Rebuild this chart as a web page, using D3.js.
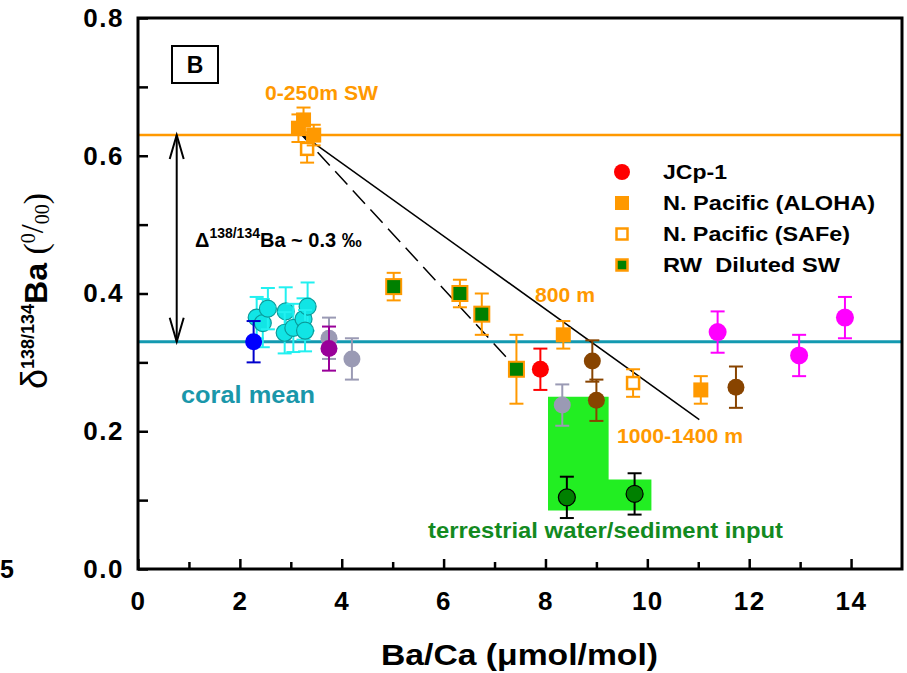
<!DOCTYPE html>
<html>
<head>
<meta charset="utf-8">
<script src="https://cdn.jsdelivr.net/npm/d3@7"></script>
<style>
  body { margin: 0; background: #fff; }
  svg { display: block; font-family: "Liberation Sans", Arial, sans-serif; }
</style>
</head>
<body>
<svg width="907" height="673"></svg>
<script>
// data: [Ba/Ca, d138Ba, error]
const alohaData   = [[3.15, 0.640, 0.020], [3.25, 0.652, 0.018], [3.45, 0.630, 0.015], [8.35, 0.340, 0.020], [11.05, 0.260, 0.020]];
const safeData    = [[3.32, 0.610, 0.020], [9.72, 0.270, 0.020]];
const rwData      = [[5.02, 0.410, 0.020], [6.32, 0.400, 0.020], [6.75, 0.370, 0.030], [7.43, 0.290, 0.050]];
const jcpData     = [[7.90, 0.290, 0.030]];
const cyanCorals  = [[2.33, 0.365, 0.030], [2.45, 0.357, 0.035], [2.55, 0.378, 0.030], [2.90, 0.374, 0.035],
                     [2.88, 0.343, 0.030], [3.05, 0.350, 0.035], [3.25, 0.363, 0.030], [3.33, 0.381, 0.035], [3.28, 0.346, 0.030]];
const blueCorals  = [[2.27, 0.330, 0.030]];
const grayCorals  = [[3.75, 0.335, 0.030], [4.20, 0.305, 0.030], [8.33, 0.238, 0.030]];
const purpleCorals = [[3.75, 0.320, 0.032]];
const brownCorals = [[8.92, 0.302, 0.030], [9.00, 0.245, 0.030], [11.74, 0.264, 0.030]];
const magentaCorals = [[11.38, 0.344, 0.030], [12.98, 0.310, 0.030], [13.88, 0.365, 0.030]];
const greenCorals = [[8.42, 0.104, 0.030], [9.75, 0.109, 0.030]];

const swLevel = 0.63;
const coralMeanLevel = 0.33;
const mixingSolid = [[3.18, 0.633], [11.02, 0.217]];
const mixingDashed = [[3.18, 0.633], [7.40, 0.294]];
const terrestrialBox = [[8.05, 0.25], [9.24, 0.25], [9.24, 0.13], [10.08, 0.13], [10.08, 0.085], [8.05, 0.085]];
const arrowX = 0.76;

const xMajor = [0, 2, 4, 6, 8, 10, 12, 14];
const xMinor = [1, 3, 5, 7, 9, 11, 13];
const yMajor = [0, 0.2, 0.4, 0.6, 0.8];
const yMinor = [0.1, 0.3, 0.5, 0.7];

const legendItems = [
  { label: "JCp-1", shape: "circle", fill: "#ff0000", stroke: "none", len: 64 },
  { label: "N. Pacific (ALOHA)", shape: "square", fill: "#ff9900", stroke: "none", len: 212 },
  { label: "N. Pacific (SAFe)", shape: "open", fill: "#fff", stroke: "#ff9900", len: 187 },
  { label: "RW  Diluted SW", shape: "rw", fill: "#008000", stroke: "#ff9900", len: 177 }
];

const svg = d3.select("svg");
const x = d3.scaleLinear().domain([0, 15]).range([138, 902]);
const y = d3.scaleLinear().domain([0, 0.8]).range([569, 18]);

const orange = "#ff9900";
const teal = "#1399b0";

// terrestrial input zone
svg.append("path")
  .attr("d", d3.line().x(d => x(d[0])).y(d => y(d[1]))(terrestrialBox) + "Z")
  .attr("fill", "#22ee22");

// reference lines
svg.append("line")
  .attr("x1", x(0)).attr("x2", x(15))
  .attr("y1", y(swLevel)).attr("y2", y(swLevel))
  .attr("stroke", orange).attr("stroke-width", 2.5);
svg.append("line")
  .attr("x1", x(0)).attr("x2", x(15))
  .attr("y1", y(coralMeanLevel)).attr("y2", y(coralMeanLevel))
  .attr("stroke", teal).attr("stroke-width", 3);

// mixing lines
const line = d3.line().x(d => x(d[0])).y(d => y(d[1]));
svg.append("path").attr("d", line(mixingSolid))
  .attr("fill", "none").attr("stroke", "#000").attr("stroke-width", 1.5);
svg.append("path").attr("d", line(mixingDashed))
  .attr("fill", "none").attr("stroke", "#000").attr("stroke-width", 1.5)
  .attr("stroke-dasharray", "18,8");

// double arrow
const ax = x(arrowX), aTop = y(swLevel), aBot = y(coralMeanLevel);
svg.append("line").attr("x1", ax).attr("x2", ax).attr("y1", aTop).attr("y2", aBot)
  .attr("stroke", "#000").attr("stroke-width", 2);
svg.append("path")
  .attr("d", `M${ax - 7},${aTop + 24}L${ax},${aTop}L${ax + 7},${aTop + 24}M${ax - 7},${aBot - 24}L${ax},${aBot}L${ax + 7},${aBot - 24}`)
  .attr("fill", "none").attr("stroke", "#000").attr("stroke-width", 2);

// points with error bars
function drawSeries(data, opt) {
  const g = svg.append("g");
  for (const [bx, v, e] of data) {
    const cx = x(bx), cy = y(v);
    const eg = g.append("g").attr("stroke", opt.err).attr("stroke-width", 2);
    eg.append("line").attr("x1", cx).attr("x2", cx).attr("y1", y(v - e)).attr("y2", y(v + e));
    eg.append("line").attr("x1", cx - 7).attr("x2", cx + 7).attr("y1", y(v - e)).attr("y2", y(v - e));
    eg.append("line").attr("x1", cx - 7).attr("x2", cx + 7).attr("y1", y(v + e)).attr("y2", y(v + e));
    if (opt.shape === "circle") {
      g.append("circle").attr("cx", cx).attr("cy", cy).attr("r", opt.size)
        .attr("fill", opt.fill).attr("stroke", opt.stroke || "none").attr("stroke-width", 1.2);
    } else {
      const s = opt.size;
      g.append("rect").attr("x", cx - s / 2).attr("y", cy - s / 2).attr("width", s).attr("height", s)
        .attr("fill", opt.fill).attr("stroke", opt.stroke || "none").attr("stroke-width", opt.sw || 0);
    }
  }
}

drawSeries(grayCorals, { shape: "circle", fill: "#9a9ab4", err: "#9a9ab4", size: 8.5 });
drawSeries(purpleCorals, { shape: "circle", fill: "#990099", err: "#990099", size: 8.5 });
drawSeries(cyanCorals, { shape: "circle", fill: "#11e5e5", stroke: "#0a9a9a", err: "#22f0f0", size: 8.5 });
drawSeries(blueCorals, { shape: "circle", fill: "#0000ff", err: "#0000cc", size: 8.5 });
drawSeries(brownCorals, { shape: "circle", fill: "#884400", err: "#884400", size: 8.5 });
drawSeries(magentaCorals, { shape: "circle", fill: "#ff00ff", err: "#ff00ff", size: 9 });
drawSeries(greenCorals, { shape: "circle", fill: "#008000", stroke: "#000", err: "#000", size: 8.5 });
drawSeries(jcpData, { shape: "circle", fill: "#ff0000", err: "#ff0000", size: 8.5 });
drawSeries(safeData, { shape: "square", fill: "#fff", stroke: orange, sw: 2.5, err: orange, size: 12 });
drawSeries(alohaData, { shape: "square", fill: orange, err: orange, size: 15 });
drawSeries(rwData, { shape: "square", fill: "#008000", stroke: orange, sw: 2, err: orange, size: 15 });

// axes
function styleAxis(g) {
  g.select(".domain").remove();
  g.selectAll(".tick line").attr("stroke", "#000").attr("stroke-width", 2.5);
  g.selectAll(".tick text").attr("fill", "#000")
    .style("font-size", "26px").style("font-weight", "bold").style("letter-spacing", "1.5px");
}
svg.append("g").attr("transform", `translate(0,${y(0)})`)
  .call(d3.axisBottom(x).tickValues(xMajor).tickSize(-10).tickPadding(23).tickFormat(d3.format("d")))
  .call(styleAxis);
svg.append("g").attr("transform", `translate(0,${y(0)})`)
  .call(d3.axisBottom(x).tickValues(xMinor).tickSize(-7).tickFormat(""))
  .call(styleAxis);
svg.append("g").attr("transform", `translate(${x(0)},0)`)
  .call(d3.axisLeft(y).tickValues(yMajor).tickSize(-10).tickPadding(14).tickFormat(d3.format(".1f")))
  .call(styleAxis);
svg.append("g").attr("transform", `translate(${x(0)},0)`)
  .call(d3.axisLeft(y).tickValues(yMinor).tickSize(-10).tickFormat(""))
  .call(styleAxis);

// frame
svg.append("rect")
  .attr("x", x(0)).attr("y", y(0.8))
  .attr("width", x(15) - x(0)).attr("height", y(0) - y(0.8))
  .attr("fill", "none").attr("stroke", "#000").attr("stroke-width", 3);

// panel label
svg.append("rect").attr("x", 172).attr("y", 46).attr("width", 46).attr("height", 37)
  .attr("fill", "#fff").attr("stroke", "#000").attr("stroke-width", 2);
svg.append("text").attr("x", 195).attr("y", 73).attr("text-anchor", "middle")
  .style("font-size", "23px").style("font-weight", "bold").text("B");

// annotations
function note(txt, px, py, size, color, len) {
  const t = svg.append("text").attr("x", px).attr("y", py)
    .style("font-size", size + "px").style("font-weight", "bold").attr("fill", color).text(txt);
  if (len) t.attr("textLength", len).attr("lengthAdjust", "spacingAndGlyphs");
  return t;
}
note("0-250m SW", 265, 100, 20, orange, 113);
note("800 m", 535, 302, 21, orange, 60);
note("1000-1400 m", 617, 443, 21, orange, 126);
note("coral mean", 181, 403, 24, "#1a97aa", 134);
note("terrestrial water/sediment input", 428, 538, 22, "#138a1f", 355);

const delta = svg.append("text").attr("x", 195).attr("y", 247)
  .style("font-weight", "bold").attr("fill", "#000");
delta.append("tspan").style("font-size", "20px").text("Δ");
delta.append("tspan").style("font-size", "14px").attr("dy", -9).text("138/134");
delta.append("tspan").style("font-size", "20px").attr("dy", 9).text("Ba ~ 0.3 ‰");

// legend
const leg = svg.append("g");
legendItems.forEach((d, i) => {
  const cy = 172 + i * 31;
  if (d.shape === "circle") {
    leg.append("circle").attr("cx", 622).attr("cy", cy).attr("r", 8).attr("fill", d.fill);
  } else {
    const s = d.shape === "square" ? 14 : 11;
    leg.append("rect").attr("x", 622 - s / 2).attr("y", cy - s / 2).attr("width", s).attr("height", s)
      .attr("fill", d.fill).attr("stroke", d.stroke).attr("stroke-width", d.shape === "square" ? 0 : 2.5);
  }
  leg.append("text").attr("x", 663).attr("y", cy + 7)
    .style("font-size", "20px").style("font-weight", "bold").style("white-space", "pre")
    .attr("textLength", d.len).attr("lengthAdjust", "spacingAndGlyphs")
    .text(d.label);
});

// axis titles
svg.append("text").attr("x", 381).attr("y", 665)
  .style("font-size", "29px").style("font-weight", "bold")
  .attr("textLength", 277).attr("lengthAdjust", "spacingAndGlyphs")
  .text("Ba/Ca (μmol/mol)");

const yt = svg.append("text").attr("transform", "translate(47,291) rotate(-90)")
  .attr("text-anchor", "middle").attr("fill", "#000");
yt.append("tspan").style("font-size", "36px").text("δ");
yt.append("tspan").style("font-size", "18px").style("font-weight", "bold").attr("dy", -13).text("138/134");
yt.append("tspan").style("font-size", "32px").style("font-weight", "bold").attr("dy", 13).text("Ba");
yt.append("tspan").style("font-family", "'Liberation Serif', serif").style("font-size", "34px").text(" (");
yt.append("tspan").style("font-family", "'Liberation Serif', serif").style("font-size", "20px").attr("dy", -12).text("0");
yt.append("tspan").style("font-family", "'Liberation Serif', serif").style("font-size", "32px").attr("dy", 8).text("/");
yt.append("tspan").style("font-family", "'Liberation Serif', serif").style("font-size", "20px").attr("dy", 6).text("00");
yt.append("tspan").style("font-family", "'Liberation Serif', serif").style("font-size", "34px").attr("dy", -2).text(")");

// stray label at far left edge
svg.append("text").attr("x", 0).attr("y", 569).attr("dy", "0.35em")
  .style("font-size", "25px").style("font-weight", "bold").text("5");
</script>
</body>
</html>
